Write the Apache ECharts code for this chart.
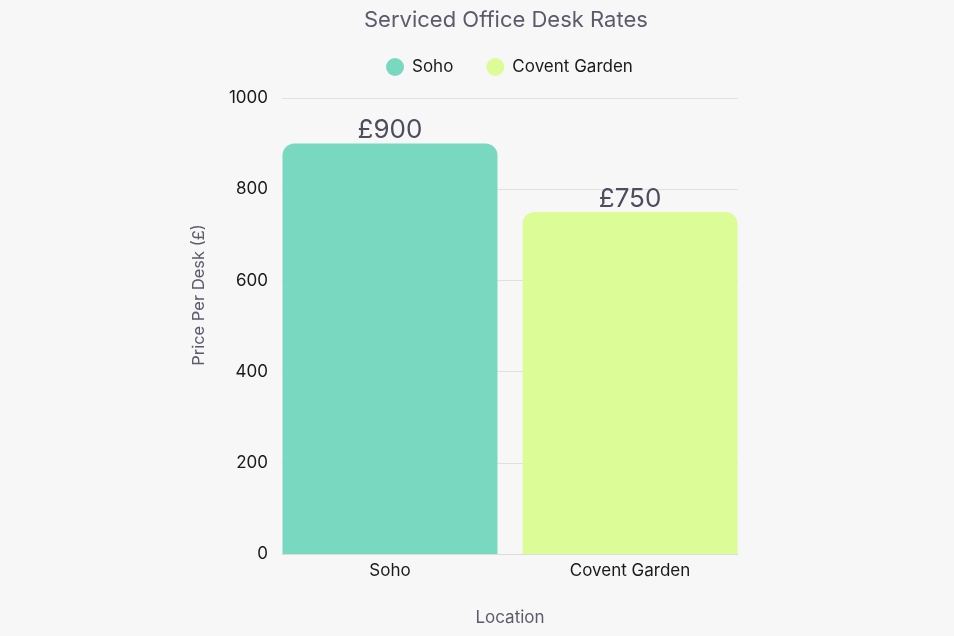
<!DOCTYPE html>
<html>
<head>
<meta charset="utf-8">
<script src="https://cdn.jsdelivr.net/npm/echarts@6/dist/echarts.min.js"></script>
<style>
html,body{margin:0;padding:0;background:#f7f7f7;}
#chart{width:954px;height:636px;}
</style>
</head>
<body>
<div id="chart"></div>
<script>
const categories = ['Soho', 'Covent Garden'];
const sohoValues = [900, null];
const coventGardenValues = [null, 750];
const yTicks = [0, 200, 400, 600, 800, 1000];

const FONT = 'Inter';
const chart = echarts.init(document.getElementById('chart'));
chart.setOption({
  backgroundColor: '#f7f7f7',
  textStyle: { fontFamily: FONT },
  title: {
    text: 'Serviced Office Desk Rates',
    left: 359, top: 4,
    textStyle: { fontFamily: FONT, fontSize: 22, fontWeight: 'normal', color: '#5b5b6b' }
  },
  legend: {
    top: 53, left: 381,
    icon: 'circle', itemWidth: 18, itemHeight: 18, itemGap: 33,
    textStyle: { fontFamily: FONT, fontSize: 17, color: '#1a1a1a', padding: [0, 0, 0, 3] },
    data: ['Soho', 'Covent Garden']
  },
  grid: { left: 282, right: 216, top: 98, bottom: 82, containLabel: false },
  xAxis: {
    type: 'category',
    data: categories,
    name: 'Location', nameLocation: 'middle', nameGap: 55,
    nameTextStyle: { fontFamily: FONT, fontSize: 17, color: '#5b5b6b' },
    axisLine: { show: true, lineStyle: { color: '#dcdcdc' } },
    axisTick: { show: false },
    axisLabel: {
      margin: 8,
      formatter: function (v, i) { return '{' + (i === 0 ? 'l' : 'r') + '|' + v + '}'; },
      rich: {
        l: { fontFamily: FONT, fontSize: 17, color: '#1a1a1a', padding: [0, 12, 0, 0] },
        r: { fontFamily: FONT, fontSize: 17, color: '#1a1a1a', padding: [0, 0, 0, 12] }
      }
    }
  },
  yAxis: {
    type: 'value', min: yTicks[0], max: yTicks[yTicks.length - 1], interval: 200,
    name: 'Price Per Desk (£)', nameLocation: 'middle', nameGap: 74,
    nameTextStyle: { fontFamily: FONT, fontSize: 16.5, color: '#5b5b6b', padding: [0, 0, 0, 62] },
    axisLine: { show: false }, axisTick: { show: false },
    axisLabel: { margin: 14, fontFamily: FONT, fontSize: 17, color: '#1a1a1a',
      formatter: function (v) { return String(v); } },
    splitLine: { lineStyle: { color: '#e0e0e0' } }
  },
  series: [
    {
      name: 'Soho', type: 'bar', data: sohoValues,
      barWidth: 215, barGap: '-94.4%',
      itemStyle: { color: '#79d9c0', borderRadius: [12, 12, 0, 0] },
      label: { show: true, position: 'top', distance: 0, formatter: '£{c}',
        fontFamily: FONT, fontSize: 26, color: '#4d4d5d' }
    },
    {
      name: 'Covent Garden', type: 'bar', data: coventGardenValues,
      barWidth: 215,
      itemStyle: { color: '#dcfc98', borderRadius: [12, 12, 0, 0] },
      label: { show: true, position: 'top', distance: 0, formatter: '£{c}',
        fontFamily: FONT, fontSize: 26, color: '#4d4d5d' }
    }
  ]
});
</script>
</body>
</html>
